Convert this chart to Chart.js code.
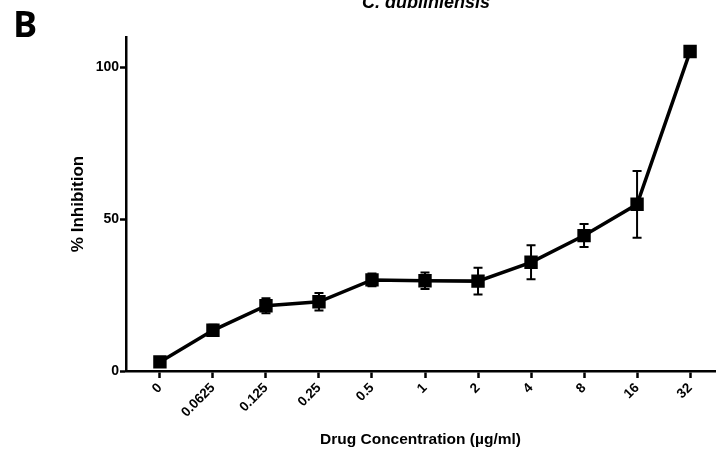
<!DOCTYPE html>
<html>
<head>
<meta charset="utf-8">
<script src="https://cdn.jsdelivr.net/npm/chart.js@4.4.0/dist/chart.umd.min.js"></script>
<style>
  html, body { margin: 0; padding: 0; background: #fff; }
  #wrap { width: 727px; height: 454px; }
</style>
</head>
<body>
<div id="wrap"><canvas id="chart" width="727" height="454"></canvas></div>
<script>
// data
const concentrations = ["0", "0.0625", "0.125", "0.25", "0.5", "1", "2", "4", "8", "16", "32"];
const inhibition = [3.0, 13.4, 21.5, 22.8, 30.0, 29.7, 29.6, 35.8, 44.6, 54.9, 105.2];
const errors = [0.8, 1.8, 2.5, 2.9, 2.1, 2.7, 4.4, 5.6, 3.8, 11.0, 1.0];
const yTicks = [0, 50, 100];

const FONT = "'Liberation Sans', Arial, sans-serif";

// error bars drawn through the scales
const errorBars = {
    id: "errorBars",
    afterDatasetsDraw(chart) {
        const ctx = chart.ctx;
        const xs = chart.scales.x;
        const ys = chart.scales.y;
        ctx.save();
        ctx.strokeStyle = "#000";
        ctx.lineWidth = 2;
        inhibition.forEach((v, i) => {
            const x = xs.getPixelForValue(i);
            const top = ys.getPixelForValue(v + errors[i]);
            const bot = ys.getPixelForValue(v - errors[i]);
            ctx.beginPath();
            ctx.moveTo(x, top); ctx.lineTo(x, bot);
            ctx.moveTo(x - 4.5, top); ctx.lineTo(x + 4.5, top);
            ctx.moveTo(x - 4.5, bot); ctx.lineTo(x + 4.5, bot);
            ctx.stroke();
        });
        ctx.restore();
    }
};

// panel letter and clipped title
const labels = {
    id: "labels",
    afterDraw(chart) {
        const ctx = chart.ctx;
        ctx.save();
        ctx.fillStyle = "#000";
        ctx.textBaseline = "alphabetic";
        ctx.textAlign = "left";
        ctx.font = "bold 36px 'Open Sans', sans-serif";
        ctx.fillText("B", 13, 37);
        ctx.textAlign = "center";
        ctx.font = "italic bold 18px " + FONT;
        ctx.fillText("C. dubliniensis", 426, 8);
        ctx.restore();
    }
};

new Chart(document.getElementById("chart"), {
    type: "line",
    data: {
        datasets: [{
            data: inhibition.map((v, i) => ({ x: i, y: v })),
            borderColor: "#000",
            backgroundColor: "#000",
            borderWidth: 3.5,
            pointStyle: "rect",
            pointRadius: 7,
            pointHoverRadius: 7,
            tension: 0
        }]
    },
    options: {
        responsive: false,
        animation: false,
        layout: { padding: { top: 37, right: 12, left: 0, bottom: 0 } },
        plugins: {
            legend: { display: false },
            tooltip: { enabled: false },
            title: { display: false }
        },
        scales: {
            x: {
                type: "linear",
                min: -0.64,
                max: 10.47,
                afterBuildTicks: (scale) => {
                    scale.ticks = concentrations.map((c, i) => ({ value: i }));
                },
                afterFit: (scale) => { scale.height = 83; },
                ticks: {
                    autoSkip: false,
                    maxRotation: 45,
                    minRotation: 45,
                    padding: 2,
                    color: "#000",
                    font: { family: FONT, size: 13.5, weight: "bold" },
                    callback: (v) => concentrations[v]
                },
                grid: {
                    drawOnChartArea: false,
                    drawTicks: true,
                    tickLength: 7,
                    tickWidth: 2.5,
                    tickColor: "#000"
                },
                border: { color: "#000", width: 2.5 },
                title: {
                    display: true,
                    text: "Drug Concentration (µg/ml)",
                    color: "#000",
                    font: { family: FONT, size: 15.5, weight: "bold" },
                    padding: { top: 5, bottom: 5 }
                }
            },
            y: {
                min: 0,
                max: 110,
                afterBuildTicks: (scale) => {
                    scale.ticks = yTicks.map((v) => ({ value: v }));
                },
                afterFit: (scale) => { scale.width = 126; },
                ticks: {
                    padding: 1,
                    color: "#000",
                    font: { family: FONT, size: 14, weight: "bold" }
                },
                grid: {
                    drawOnChartArea: false,
                    drawTicks: true,
                    tickLength: 6,
                    tickWidth: 2.5,
                    tickColor: "#000"
                },
                border: { color: "#000", width: 2.5 },
                title: {
                    display: true,
                    text: "% Inhibition",
                    color: "#000",
                    font: { family: FONT, size: 17, weight: "bold" },
                    padding: { top: 68, bottom: 68 }
                }
            }
        }
    },
    plugins: [errorBars, labels]
});
</script>
</body>
</html>
